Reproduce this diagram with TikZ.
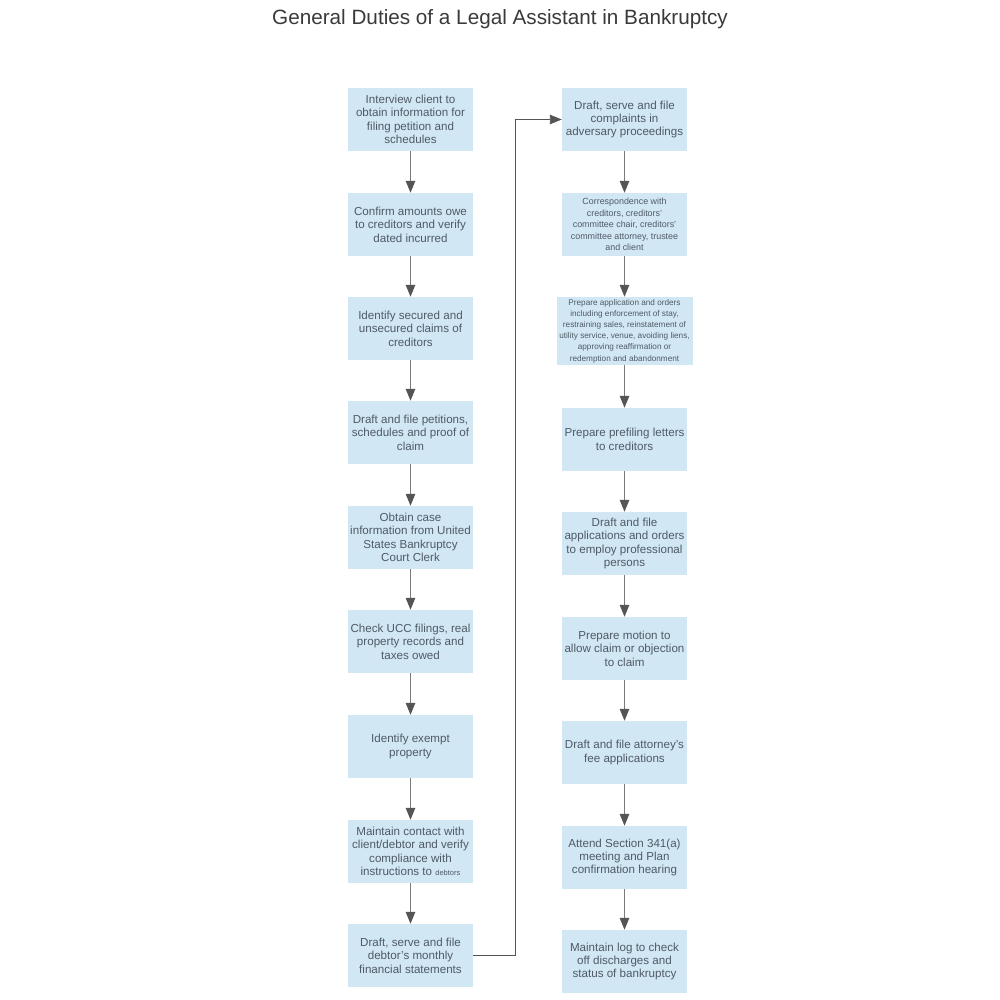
\documentclass[tikz,border=0pt]{standalone}
\usepackage{fontspec}
\setmainfont{Liberation Sans}
\usetikzlibrary{arrows.meta}
\definecolor{boxfill}{HTML}{D1E7F4}
\definecolor{txt}{HTML}{4F5A66}
\definecolor{lin}{HTML}{555555}
\definecolor{linlight}{HTML}{7A7A7A}
\definecolor{ttl}{HTML}{3A3A3A}
\tikzset{
  box/.style={draw=none, fill=boxfill, minimum width=125pt, minimum height=63pt, inner sep=1pt,
    align=center, text=txt, font=\fontsize{11.6}{13.4}\selectfont},
  smallbox/.style={box, font=\fontsize{8.9}{11.5}\selectfont},
  tinybox/.style={box, minimum width=136pt, minimum height=68pt, font=\fontsize{8.2}{11.2}\selectfont},
  arr/.style={draw=linlight, line width=1.3pt, -{Triangle[width=9.5pt,length=12pt,color=lin]}},
  link/.style={draw=lin, line width=0.9pt, -{Triangle[width=9.5pt,length=12pt]}}
}
\begin{document}
\begin{tikzpicture}[x=1pt,y=-1pt]
\useasboundingbox (0,0) rectangle (1000,1000);
\node[text=ttl, font=\fontsize{20.7}{24}\selectfont] (title) at (500,19) {General Duties of a Legal Assistant in Bankruptcy};
% left column
\node[box] (l1) at (410.5,119.5) {Interview client to\\obtain information for\\filing petition and\\schedules};
\node[box] (l2) at (410.5,224.5) {Confirm amounts owe\\to creditors and verify\\dated incurred};
\node[box] (l3) at (410.5,328.5) {Identify secured and\\unsecured claims of\\creditors};
\node[box] (l4) at (410.5,432.5) {Draft and file petitions,\\schedules and proof of\\claim};
\node[box] (l5) at (410.5,537.5) {Obtain case\\information from United\\States Bankruptcy\\Court Clerk};
\node[box] (l6) at (410.5,641.5) {Check UCC filings, real\\property records and\\taxes owed};
\node[box] (l7) at (410.5,746.5) {Identify exempt\\property};
\node[box] (l8) at (410.5,851.5) {Maintain contact with\\client/debtor and verify\\compliance with\\instructions to {\fontsize{7.5}{8}\selectfont debtors}};
\node[box] (l9) at (410.5,955.5) {Draft, serve and file\\debtor's monthly\\financial statements};
% right column
\node[box] (r1) at (624.5,119.5) {Draft, serve and file\\complaints in\\adversary proceedings};
\node[smallbox] (r2) at (624.5,224.5) {Correspondence with\\creditors, creditors'\\committee chair, creditors'\\committee attorney, trustee\\and client};
\node[tinybox] (r3) at (624.5,331) {Prepare application and orders\\including enforcement of stay,\\restraining sales, reinstatement of\\utility service, venue, avoiding liens,\\approving reaffirmation or\\redemption and abandonment};
\node[box] (r4) at (624.5,439.5) {Prepare prefiling letters\\to creditors};
\node[box] (r5) at (624.5,543.5) {Draft and file\\applications and orders\\to employ professional\\persons};
\node[box] (r6) at (624.5,648.5) {Prepare motion to\\allow claim or objection\\to claim};
\node[box] (r7) at (624.5,752.5) {Draft and file attorney's\\fee applications};
\node[box] (r8) at (624.5,857.5) {Attend Section 341(a)\\meeting and Plan\\confirmation hearing};
\node[box] (r9) at (624.5,961.5) {Maintain log to check\\off discharges and\\status of bankruptcy};
% arrows
\foreach \a/\b in {l1/l2,l2/l3,l3/l4,l4/l5,l5/l6,l6/l7,l7/l8,l8/l9,r1/r2,r2/r3,r3/r4,r4/r5,r5/r6,r6/r7,r7/r8,r8/r9}
  \draw[arr] (\a.south) -- (\b.north);
\coordinate (j1) at (515,955.5);
\coordinate (j2) at (515,119.5);
\draw[link] (l9.east) -- (j1) -- (j2) -- (r1.west);
\end{tikzpicture}
\end{document}
